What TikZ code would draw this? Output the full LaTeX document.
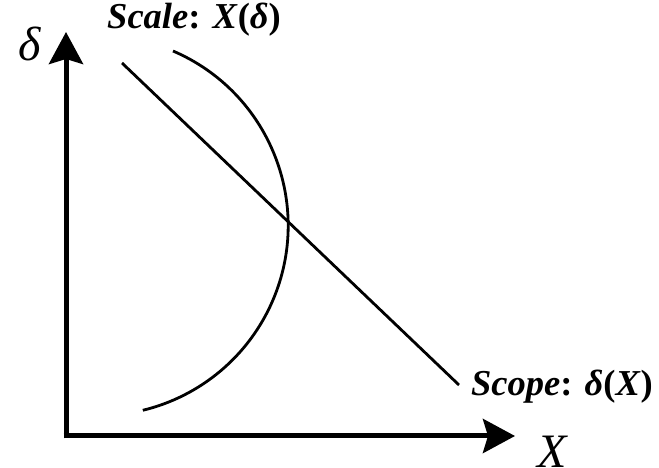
\documentclass[tikz,border=0pt]{standalone}
\usepackage{fontspec}
\setmainfont{Liberation Serif}
\usetikzlibrary{arrows.meta}
\begin{document}
\begin{tikzpicture}[x=1pt,y=1pt,
  axis/.style={line width=5pt,-{Stealth[length=32pt,width=34pt,inset=5pt]}},
  curve/.style={line width=2.8pt},
  lbl/.style={inner sep=0pt,font=\fontsize{36.5}{42}\selectfont\bfseries},
  axlbl/.style={inner sep=0pt,font=\fontsize{48}{54}\selectfont\itshape}]
\useasboundingbox (0,0) rectangle (659,468);
\coordinate (O) at (66,32);
\coordinate (ytip) at (66,436);
\coordinate (xtip) at (515,32);
\coordinate (ls) at (122,405);
\coordinate (le) at (459,83);
\coordinate (as) at (173,417);
\draw[axis] ([xshift=-2.5pt]O) -- (xtip);
\draw[axis] ([yshift=-2.5pt]O) -- (ytip);
\draw[curve] (ls) -- (le);
\draw[curve] (as) arc[start angle=66.8,end angle=-76.4,radius=190];
\node[axlbl] (dl) at (30,424) {δ};
\node[axlbl] (xl) at (552,16) {X};
\node[lbl] (sc) at (194,448) {\textit{Scale}: \textit{X}(\textit{δ})};
\node[lbl] (sp) at (562,81) {\textit{Scope}: \textit{δ}(\textit{X})};
\end{tikzpicture}
\end{document}
